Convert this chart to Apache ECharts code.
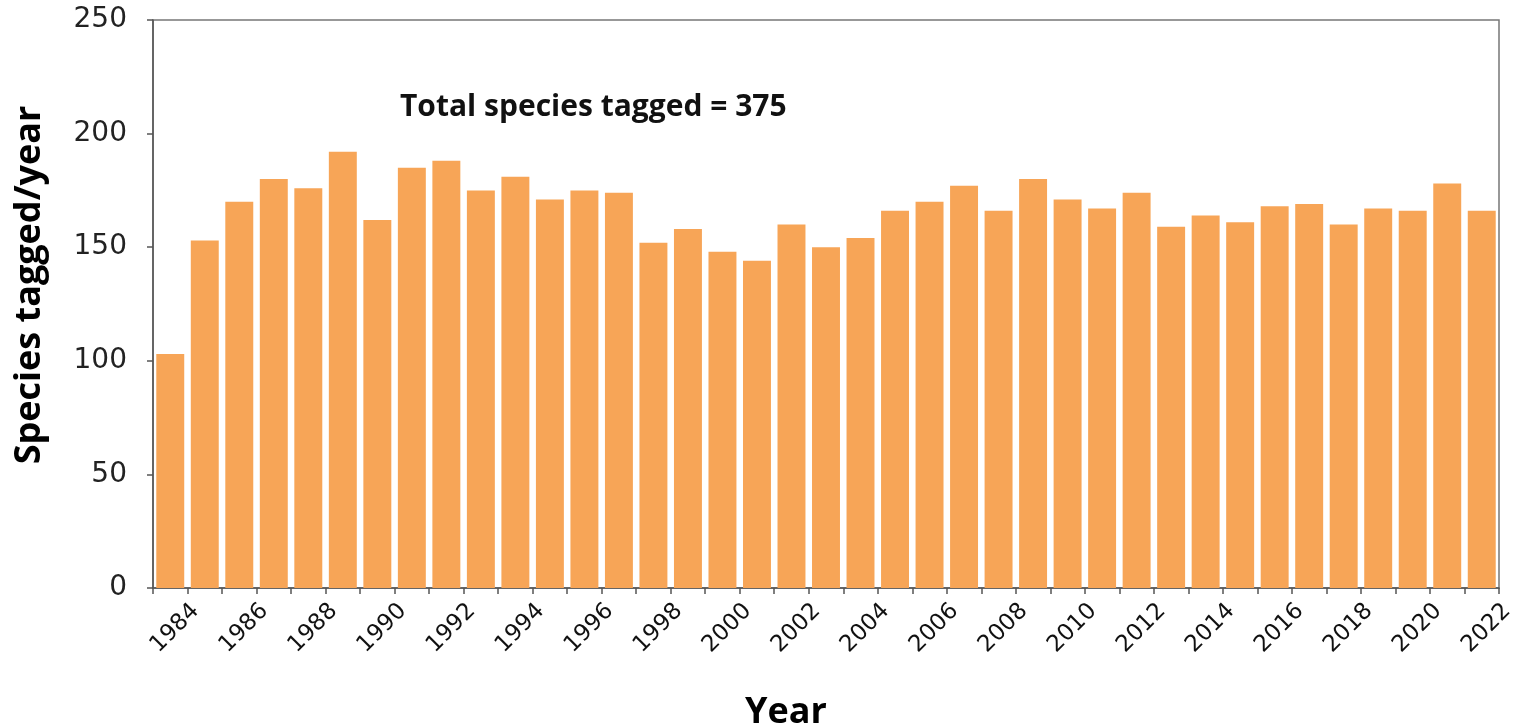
<!DOCTYPE html>
<html>
<head>
<meta charset="utf-8">
<script src="https://cdn.jsdelivr.net/npm/echarts@6/dist/echarts.min.js"></script>
<style>html,body{margin:0;padding:0;background:#fff}#c{width:1521px;height:728px}</style>
</head>
<body>
<div id="c"></div>
<script>
const years = ['1984','1985','1986','1987','1988','1989','1990','1991','1992','1993','1994','1995','1996','1997','1998','1999','2000','2001','2002','2003','2004','2005','2006','2007','2008','2009','2010','2011','2012','2013','2014','2015','2016','2017','2018','2019','2020','2021','2022'];
const speciesTagged = [103,153,170,180,176,192,162,185,188,175,181,171,175,174,152,158,148,144,160,150,154,166,170,177,166,180,171,167,174,159,164,161,168,169,160,167,166,178,166];
const yTicks = {min: 0, max: 250, interval: 50};
const annotation = 'Total species tagged = 375';
const xTitle = 'Year';
const yTitle = 'Species tagged/year';

const chart = echarts.init(document.getElementById('c'));
chart.setOption({
  animation: false,
  grid: {left: 153, right: 22, top: 20, bottom: 140, show: true, borderColor: '#777', borderWidth: 1.5, backgroundColor: 'transparent'},
  xAxis: {
    type: 'category',
    data: years,
    axisLine: {lineStyle: {color: '#555', width: 1.5}},
    axisTick: {show: true, alignWithLabel: false, interval: 0, length: 6, lineStyle: {color: '#555', width: 1.5}},
    axisLabel: {interval: 1, rotate: 45, margin: 45, fontSize: 23, color: '#111', fontFamily: 'DejaVu Sans', padding: [0, -36, 0, 0]}
  },
  yAxis: {
    type: 'value',
    min: yTicks.min, max: yTicks.max, interval: yTicks.interval,
    splitLine: {show: false},
    axisLine: {show: true, lineStyle: {color: '#555', width: 1.5}},
    axisTick: {show: true, length: 6, lineStyle: {color: '#555', width: 1.5}},
    axisLabel: {fontSize: 28, color: '#222', margin: 26, fontFamily: 'DejaVu Sans'}
  },
  series: [{
    type: 'bar',
    data: speciesTagged,
    barCategoryGap: '19%',
    itemStyle: {color: '#F7A557'}
  }],
  graphic: [
    {type: 'text', x: 400, y: 107, style: {text: annotation, font: 'bold 30px "Open Sans"', fill: '#111', verticalAlign: 'middle'}},
    {type: 'text', x: 786, y: 713, style: {text: xTitle, font: 'bold 36px "Open Sans"', fill: '#000', align: 'center', verticalAlign: 'middle'}},
    {type: 'text', x: 30, y: 285, rotation: Math.PI / 2, style: {text: yTitle, font: 'bold 36px "Open Sans"', fill: '#000', align: 'center', verticalAlign: 'middle'}}
  ]
});
</script>
</body>
</html>
